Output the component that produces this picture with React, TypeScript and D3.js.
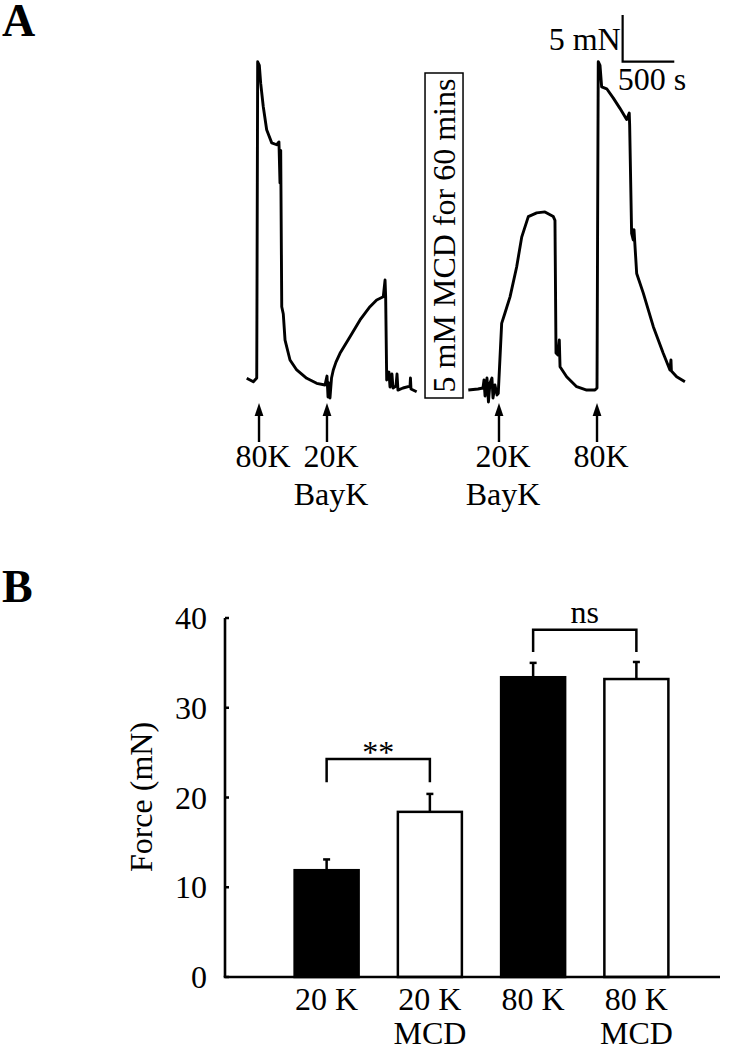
import React from 'react';
import { scaleLinear, scaleBand, line } from 'd3';

// panel A: force trace (time in s, force in mN), before and after MCD
const traceControl: [number, number][] = [
  [7, 1.47], [71, 1.1], [104, 1.5], [113, 35.4], [129, 35.0], [142, 33.1], [167, 30.6],
  [200, 28.1], [249, 26.7], [297, 26.5], [319, 26.8], [329, 22.4], [336, 25.9], [346, 9.14],
  [361, 8.36], [365, 7.7], [378, 5.57], [426, 3.43], [491, 2.36], [588, 1.47], [684, 0.93],
  [765, 0.75], [784, 1.71], [794, -0.54], [803, 0.96], [813, -0.64], [828, 1.5], [845, 2.36],
  [871, 3.2], [910, 4.15], [1007, 5.93], [1104, 7.72], [1200, 9.14], [1265, 9.86],
  [1329, 10.21], [1346, 12.0], [1352, 10.2], [1362, 1.29], [1384, 2.14], [1394, 0.54],
  [1413, 1.93], [1423, 0.43], [1452, 0.64], [1462, 1.93], [1471, 0.2], [1520, 0.43],
  [1588, 0.64], [1592, 1.5], [1597, 0.32], [1652, 0.03]
];

const traceMCD: [number, number][] = [
  [2152, 0.21], [2246, 0.32], [2294, 0.43], [2304, 1.29], [2314, -0.43], [2333, 1.5],
  [2347, -1.07], [2362, 0.96], [2381, 1.5], [2391, -0.64], [2410, 0.75], [2430, -0.32],
  [2442, -0.14], [2475, 7.36], [2507, 8.47], [2556, 10.2], [2620, 13.4], [2669, 16.6],
  [2733, 18.8], [2814, 19.2], [2894, 19.3], [2975, 18.8], [2991, 18.4], [3001, 4.18],
  [3020, 3.97], [3033, 5.57], [3040, 2.71], [3104, 1.64], [3201, 0.57], [3298, 0.21],
  [3378, 0.21], [3398, 0.43], [3410, 35.4], [3427, 35.0], [3443, 32.7], [3492, 32.5],
  [3556, 31.5], [3620, 30.4], [3685, 29.2], [3710, 29.9], [3714, 28.6], [3733, 17.0],
  [3749, 16.3], [3756, 17.4], [3782, 12.7], [3846, 10.6], [3943, 7.0], [4039, 4.15],
  [4104, 2.36], [4114, 3.43], [4118, 2.25], [4169, 1.64], [4249, 1.1]
];

const eventTimes = [126, 784, 2449, 3398];
const eventLabels = [['80K'], ['20K', 'BayK'], ['20K', 'BayK'], ['80K']];
const mcdLabel = '5 mM MCD for 60 mins';
const mcdTime = 1917;
const scaleBarAt = { t: 3646, f: 35.4 };
const scaleBarSize = { t: 500, f: 5 };

// panel B: peak force
const categories = ['20 K', '20 K MCD', '80 K', '80 K MCD'];
const categoryLines = [['20 K'], ['20 K', 'MCD'], ['80 K'], ['80 K', 'MCD']];
const forceMean = [11.9, 18.4, 33.4, 33.2];
const forceSem = [1.2, 2.0, 1.6, 1.9];
const mcdTreated = [false, true, false, true];
const yTicks = [0, 10, 20, 30, 40];
const brackets = [
  { from: '20 K', to: '20 K MCD', top: 24.3, leg: 21.7, label: '**' },
  { from: '80 K', to: '80 K MCD', top: 38.7, leg: 36.2, label: 'ns' }
];

const FONT = '"Liberation Serif", "Times New Roman", serif';

export default function App() {
  // trace scales: ~0.1033 px per second, ~9.33 px per mN
  const tx = scaleLinear().domain([0, 4300]).range([246, 246 + 4300 * 0.1033]);
  const fy = scaleLinear().domain([0, 40]).range([392, 392 - 40 * 9.33]);
  const traceLine = line<[number, number]>()
    .x(d => tx(d[0]))
    .y(d => fy(d[1]));

  const x = scaleBand<string>()
    .domain(categories)
    .range([275, 688])
    .paddingInner(0.38)
    .paddingOuter(0.19);
  const y = scaleLinear().domain([0, 40]).range([977, 618]);
  const axisLeft = 225;
  const axisRight = 720;
  const cx = (c: string) => (x(c) as number) + x.bandwidth() / 2;

  return (
    <svg width={741} height={1048} style={{ position: 'absolute', left: 0, top: 0, background: '#fff' }}
      fontFamily={FONT} fill="#000">
      {/* panel letters */}
      <text x={2} y={36} fontSize={46} fontWeight="bold">A</text>
      <text x={2} y={602} fontSize={46} fontWeight="bold">B</text>

      {/* traces */}
      <path d={traceLine(traceControl) || ''} fill="none" stroke="#000" strokeWidth={2.9} strokeLinejoin="round" />
      <path d={traceLine(traceMCD) || ''} fill="none" stroke="#000" strokeWidth={2.9} strokeLinejoin="round" />

      {/* MCD incubation box */}
      <rect x={tx(mcdTime) - 19} y={73} width={38} height={325} fill="#fff" stroke="#000" strokeWidth={1.5} />
      <text transform={`translate(${tx(mcdTime) + 11},235.5) rotate(-90)`} textAnchor="middle" fontSize={32}>
        {mcdLabel}
      </text>

      {/* scale bar */}
      <path
        d={`M${tx(scaleBarAt.t)},${fy(scaleBarAt.f + scaleBarSize.f)}V${fy(scaleBarAt.f)}H${tx(scaleBarAt.t + scaleBarSize.t)}`}
        fill="none" stroke="#000" strokeWidth={2.2} />
      <text x={tx(scaleBarAt.t) - 2} y={50} textAnchor="end" fontSize={32}>{`${scaleBarSize.f} mN`}</text>
      <text x={tx(scaleBarAt.t) - 5} y={90} fontSize={32}>{`${scaleBarSize.t} s`}</text>

      {/* event arrows */}
      {eventTimes.map((t, i) => {
        const ax = tx(t);
        return (
          <g key={i}>
            <line x1={ax} x2={ax} y1={414} y2={442} stroke="#000" strokeWidth={2.4} />
            <path d={`M${ax},403L${ax - 4.4},416L${ax + 4.4},416Z`} fill="#000" />
            {eventLabels[i].map((s, j) => (
              <text key={j} x={ax + 4} y={467 + j * 38} textAnchor="middle" fontSize={32}>{s}</text>
            ))}
          </g>
        );
      })}

      {/* panel B bars */}
      {categories.map((c, i) => {
        const bx = x(c) as number;
        const top = y(forceMean[i]);
        const errTop = y(forceMean[i] + forceSem[i]);
        return (
          <g key={c}>
            <line x1={cx(c)} x2={cx(c)} y1={top} y2={errTop} stroke="#000" strokeWidth={2.5} />
            <line x1={cx(c) - 3.5} x2={cx(c) + 3.5} y1={errTop} y2={errTop} stroke="#000" strokeWidth={2.5} />
            <rect x={bx} y={top} width={x.bandwidth()} height={y(0) - top}
              fill={mcdTreated[i] ? '#fff' : '#000'} stroke="#000" strokeWidth={2.5} />
          </g>
        );
      })}

      {/* axes */}
      <line x1={axisLeft} x2={axisLeft} y1={y(40)} y2={y(0)} stroke="#000" strokeWidth={2.6} />
      <line x1={axisLeft - 1.3} x2={axisRight} y1={y(0)} y2={y(0)} stroke="#000" strokeWidth={2.6} />
      {yTicks.map(v => (
        <g key={v}>
          <line x1={axisLeft} x2={axisLeft + 4} y1={y(v)} y2={y(v)} stroke="#000" strokeWidth={2.5} />
          <text x={207} y={y(v)} dy="0.35em" textAnchor="end" fontSize={32}>{v}</text>
        </g>
      ))}
      <text transform={`translate(152,797) rotate(-90)`} textAnchor="middle" fontSize={32}>Force (mN)</text>

      {categories.map((c, i) =>
        categoryLines[i].map((s, j) => (
          <text key={c + j} x={cx(c)} y={1010 + j * 34} textAnchor="middle" fontSize={32}>{s}</text>
        ))
      )}

      {/* significance brackets */}
      {brackets.map(b => {
        const x1 = cx(b.from);
        const x2 = cx(b.to);
        return (
          <g key={b.label}>
            <path d={`M${x1},${y(b.leg)}V${y(b.top)}H${x2}V${y(b.leg)}`} fill="none" stroke="#000" strokeWidth={2.5} />
            <text x={(x1 + x2) / 2} y={b.label === '**' ? y(b.top) + 4 : y(b.top) - 7} textAnchor="middle" fontSize={32}>
              {b.label}
            </text>
          </g>
        );
      })}
    </svg>
  );
}
